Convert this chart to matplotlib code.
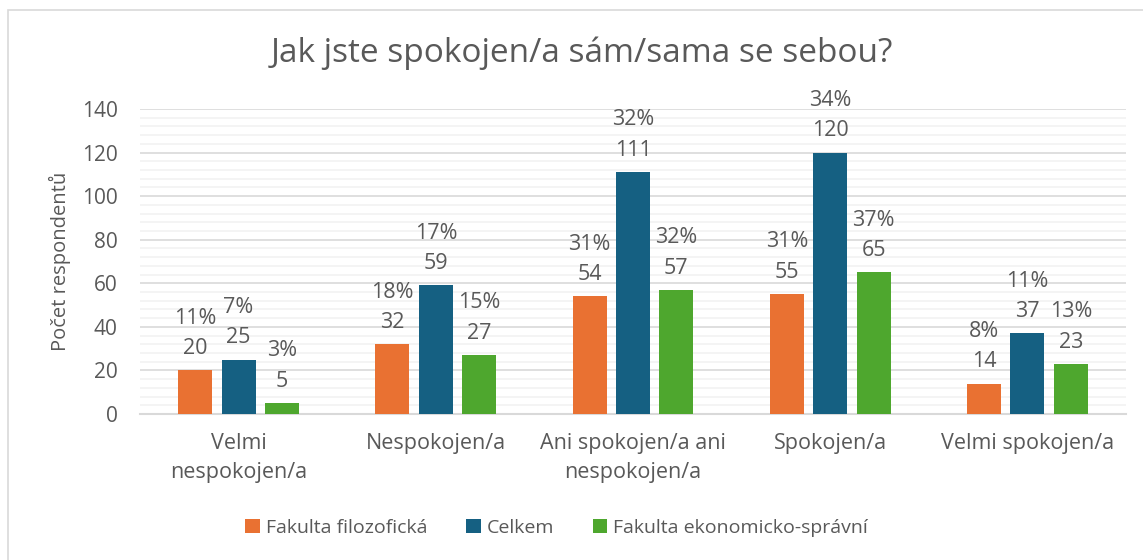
import matplotlib.pyplot as plt
import numpy as np
from matplotlib.patches import Rectangle
from matplotlib.ticker import MultipleLocator

plt.rcParams["font.family"] = ["Open Sans", "DejaVu Sans"]

categories = ["Velmi\nnespokojen/a", "Nespokojen/a", "Ani spokojen/a ani\nnespokojen/a",
              "Spokojen/a", "Velmi spokojen/a"]
series_names = ["Fakulta filozofická", "Celkem", "Fakulta ekonomicko-správní"]
ff_counts = [20, 32, 54, 55, 14]
celkem_counts = [25, 59, 111, 120, 37]
fes_counts = [5, 27, 57, 65, 23]
ff_pct = [11, 18, 31, 31, 8]
celkem_pct = [7, 17, 32, 34, 11]
fes_pct = [3, 15, 32, 37, 13]

colors = ["#E97132", "#156082", "#4EA72E"]
text_color = "#595959"

fig = plt.figure(figsize=(11.43, 5.6), dpi=100)
ax = fig.add_axes([0.1225, 0.2607, 0.8626, 0.5446])

# chart frame
fig.patches.append(Rectangle((8 / 1143, -0.05), 1.2, 550 / 560 + 0.05,
                             transform=fig.transFigure, fill=False,
                             edgecolor="#D9D9D9", linewidth=1.2))

x = np.arange(len(categories))
width = 0.172
offset = 0.22
all_counts = [ff_counts, celkem_counts, fes_counts]
all_pct = [ff_pct, celkem_pct, fes_pct]

for i, (counts, pcts) in enumerate(zip(all_counts, all_pct)):
    pos = x + (i - 1) * offset
    ax.bar(pos, counts, width, color=colors[i], label=series_names[i], zorder=3)
    for xp, c, p in zip(pos, counts, pcts):
        ax.annotate(f"{p}%\n{c}", (xp, c), xytext=(0, 8), textcoords="offset points",
                    ha="center", va="bottom", fontsize=15.5, color=text_color,
                    linespacing=1.6)

ax.set_ylim(0, 140)
ax.set_xlim(-0.5, len(categories) - 0.5)
ax.yaxis.set_major_locator(MultipleLocator(20))
ax.yaxis.set_minor_locator(MultipleLocator(4))
ax.grid(axis="y", which="major", color="#D9D9D9", linewidth=1.2, zorder=0)
ax.grid(axis="y", which="minor", color="#F2F2F2", linewidth=1.2, zorder=0)
ax.set_axisbelow(True)
for s in ["top", "right", "left"]:
    ax.spines[s].set_visible(False)
ax.spines["bottom"].set_color("#D9D9D9")
ax.spines["bottom"].set_linewidth(1.5)
ax.tick_params(axis="both", which="both", length=0, colors=text_color, labelsize=15)
ax.tick_params(axis="y", pad=16)
ax.tick_params(axis="x", pad=14, labelsize=15.5)
ax.set_xticks(x)
ax.set_xticklabels(categories, linespacing=1.5)
ax.set_ylabel("Počet respondentů", fontsize=14.5, color=text_color, labelpad=8)

fig.text(0.509, 0.905, "Jak jste spokojen/a sám/sama se sebou?", ha="center", va="center",
         fontsize=24, color=text_color)

handles, labels = ax.get_legend_handles_labels()
fig.legend(handles, labels, loc="center", bbox_to_anchor=(0.487, 0.058), ncol=3,
           frameon=False, fontsize=14, labelcolor=text_color, handlelength=0.75,
           handleheight=0.75, handletextpad=0.3, columnspacing=2.0)

fig.savefig("out.png", dpi=100, facecolor="white")
